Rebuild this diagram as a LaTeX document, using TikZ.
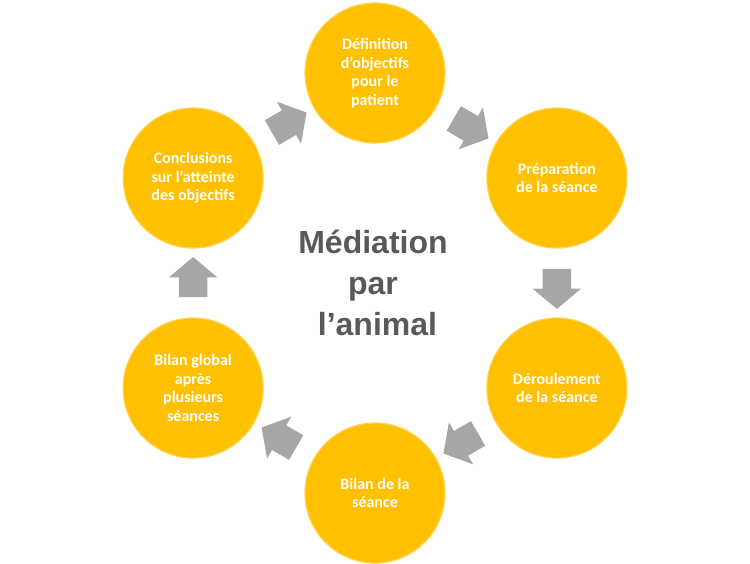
\documentclass[tikz,border=0pt]{standalone}
\usepackage{fontspec}
\setmainfont{Carlito}
\newfontfamily\titrefont{Liberation Sans}
\usetikzlibrary{shapes.arrows}
\definecolor{mediagold}{HTML}{FFC000}
\definecolor{mediarim}{HTML}{FFD54F}
\definecolor{mediagray}{HTML}{A6A6A6}
\definecolor{mediatext}{HTML}{595959}
\tikzset{
  etape/.style={circle, minimum size=140pt, inner sep=0pt, fill=mediagold, draw=mediarim, line width=1.2pt,
    text=white, align=center, font=\bfseries\fontsize{16}{18.5}\selectfont},
  fleche/.style={single arrow, fill=mediagray, draw=none, inner xsep=0pt, inner ysep=14pt,
    minimum height=40pt, single arrow head extend=10pt, single arrow tip angle=100,
    sloped, allow upside down, midway}
}
\begin{document}
\begin{tikzpicture}[x=1pt,y=1pt] %One unit is one pixel of the reference
\useasboundingbox (-375,-280) rectangle (375,283); %Page size
\node[etape] (objectifs) at (90:210) {D\'efinition\\d’objectifs\\pour le\\patient}; %Top
\node[etape] (preparation) at (30:210) {Pr\'eparation\\de la s\'eance};
\node[etape] (deroulement) at (-30:210) {D\'eroulement\\de la s\'eance};
\node[etape] (bilanseance) at (-90:210) {Bilan de la\\s\'eance}; %Bottom
\node[etape] (bilanglobal) at (-150:210) {Bilan global\\apr\`es\\plusieurs\\s\'eances};
\node[etape] (conclusions) at (150:210) {Conclusions\\sur l’atteinte\\des objectifs};
\node[text=mediatext, align=center, font=\titrefont\bfseries\fontsize{32}{41}\selectfont] (titre) at (-2,0) {M\'ediation\\par\\\ l’animal}; %Centre
%Grey arrows between the steps
\path (objectifs) -- (preparation) node[fleche] (f1) {};
\path (preparation) -- (deroulement) node[fleche] (f2) {};
\path (deroulement) -- (bilanseance) node[fleche] (f3) {};
\path (bilanseance) -- (bilanglobal) node[fleche] (f4) {};
\path (bilanglobal) -- (conclusions) node[fleche] (f5) {};
\path (conclusions) -- (objectifs) node[fleche] (f6) {};
\end{tikzpicture}
\end{document}
